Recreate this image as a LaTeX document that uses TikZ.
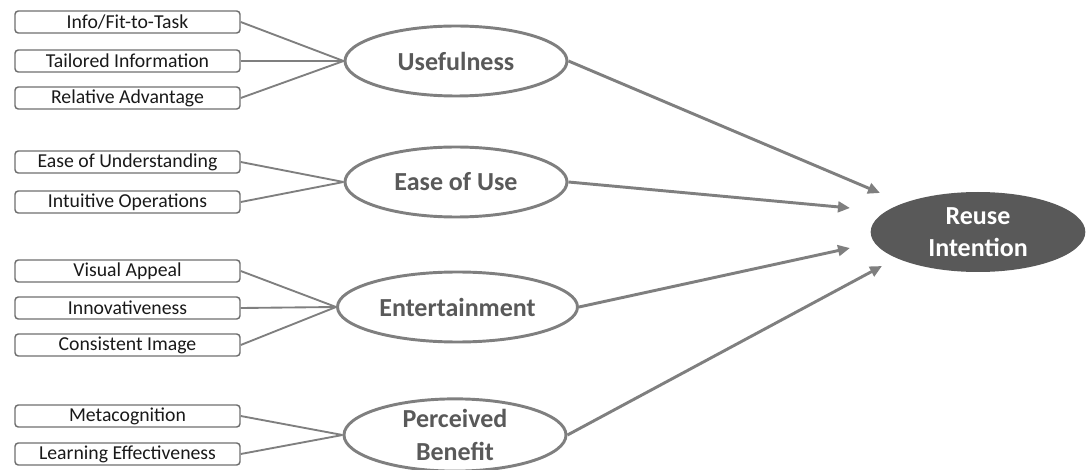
\documentclass[tikz,border=0pt]{standalone}
\usepackage{fontspec}
\setmainfont{Carlito}
\usepackage{xcolor}
\usepackage{tikz}
\usetikzlibrary{positioning,arrows.meta,shapes.geometric}

\definecolor{edgegray}{HTML}{7F7F7F}
\definecolor{boxgray}{HTML}{6E6E6E}
\definecolor{darkfill}{HTML}{595959}

\begin{document}
\begin{tikzpicture}[x=0.75pt,y=-0.75pt,
  item/.style={draw=boxgray,line width=1.1pt,rounded corners=2.5pt,minimum width=168.75pt,minimum height=16.5pt,inner sep=0pt,font=\fontsize{14.8}{16}\selectfont,text=black!90},
  factor/.style={ellipse,draw=edgegray,line width=2.2pt,minimum width=166.5pt,minimum height=52.5pt,inner sep=0pt,align=center,font=\fontsize{19.5}{24.5}\selectfont\bfseries,text=darkfill},
  goal/.style={ellipse,fill=darkfill,minimum width=161pt,minimum height=60pt,inner sep=0pt,align=center,font=\fontsize{19.5}{23.5}\selectfont\bfseries,text=white},
  link/.style={draw=edgegray,line width=1.4pt},
  path/.style={draw=edgegray,line width=2.2pt,-{Triangle[length=9pt,width=8pt]}}]
\useasboundingbox (0,0) rectangle (1088,470);
% indicators
\node[item] (fit) at (127.5,22) {Info/Fit-to-Task};
\node[item] (tail) at (127.5,61) {Tailored Information};
\node[item] (adv) at (127.5,98) {Relative Advantage};
\node[item] (und) at (127.5,162) {Ease of Understanding};
\node[item] (intu) at (127.5,202) {Intuitive Operations};
\node[item] (vis) at (127.5,271) {Visual Appeal};
\node[item] (inno) at (127.5,308) {Innovativeness};
\node[item] (cons) at (127.5,345) {Consistent Image};
\node[item] (meta) at (127.5,416) {Metacognition};
\node[item] (learn) at (127.5,454) {Learning Effectiveness};
% constructs
\node[factor] (use) at (456,61) {Usefulness};
\node[factor] (ease) at (456,182) {Ease of Use};
\node[factor,minimum width=180pt] (ent) at (457.5,307) {Entertainment};
\node[factor,minimum height=51pt] (ben) at (455,435) {Perceived\\Benefit};
\node[goal] (reuse) at (978,232) {Reuse\\Intention};
% arrow ends
\coordinate (t1) at (880,193);
\coordinate (t2) at (850,208);
\coordinate (t3) at (850,248);
\coordinate (t4) at (882,266);
\foreach \a in {fit,tail,adv} \draw[link] (\a.east)--(use.west);
\foreach \a in {und,intu} \draw[link] (\a.east)--(ease.west);
\foreach \a in {vis,inno,cons} \draw[link] (\a.east)--(ent.west);
\foreach \a in {meta,learn} \draw[link] (\a.east)--(ben.west);
\draw[path] (use.east)--(t1); \draw[path] (ease.east)--(t2);
\draw[path] (ent.east)--(t3); \draw[path] (ben.east)--(t4);
\end{tikzpicture}
\end{document}
